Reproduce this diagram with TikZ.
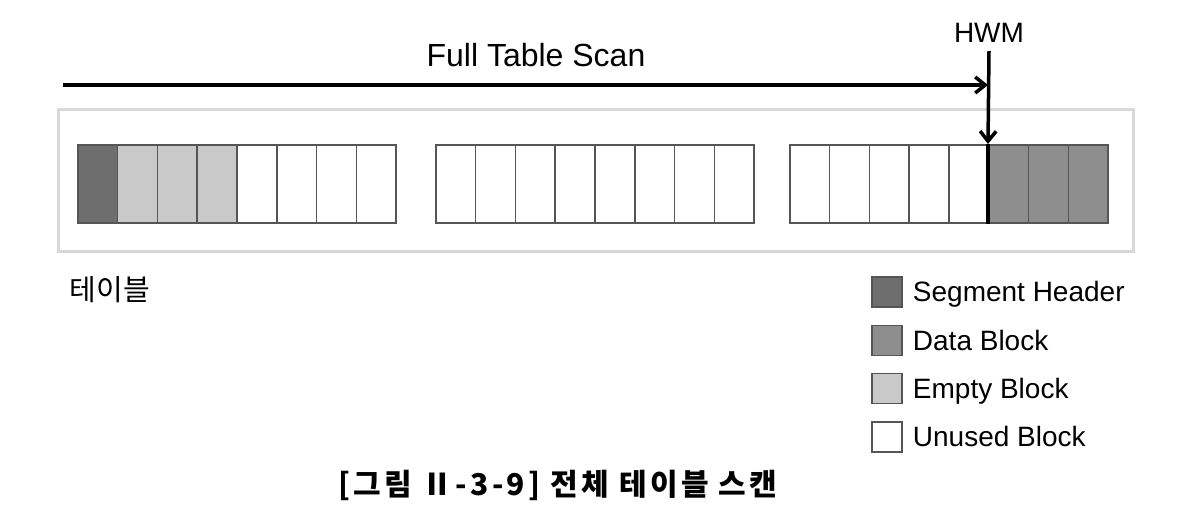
\documentclass[tikz,border=0pt]{standalone}
\usepackage{fontspec}
\setmainfont{Liberation Sans}
\newfontfamily\kofont{Noto Sans CJK KR}
\newfontfamily\capfont[LetterSpace=11]{Noto Sans CJK KR}
\usetikzlibrary{arrows.meta,positioning}

\definecolor{segGray}{HTML}{6E6E6E}
\definecolor{dataGray}{HTML}{8E8E8E}
\definecolor{emptyGray}{HTML}{C9C9C9}
\definecolor{frameGray}{HTML}{D8D8D8}
\definecolor{edgeGray}{HTML}{555555}

\tikzset{
  blk/.style={draw=edgeGray, line width=1.6pt, minimum width=39.8pt, minimum height=78pt,
    inner sep=0pt, anchor=north west},
  legbox/.style={draw=edgeGray, line width=1.5pt, minimum size=30pt, inner sep=0pt},
  legtxt/.style={inner sep=0pt, text height=20pt, text depth=0pt, font=\fontsize{28}{30}\selectfont},
  bigline/.style={line width=3.5pt, black},
}

\begin{document}
\begin{tikzpicture}[x=1pt,y=-1pt]
\useasboundingbox (0,0) rectangle (1200,526);

% Draw the table frame
\draw[frameGray, line width=3pt] (58,110) rectangle (1133,252);

% Draw the blocks, three groups of eight
\foreach \c [count=\n] in {segGray,emptyGray,emptyGray,emptyGray,white,white,white,white,
  white,white,white,white,white,white,white,white,
  white,white,white,white,white,dataGray,dataGray,dataGray}{
  \pgfmathtruncatemacro\g{(\n-1)/8}
  \pgfmathsetmacro\xx{{77,435,789}[\g]+mod(\n-1,8)*39.8}
  \node[blk, fill=\c] (b\n) at (\xx,144) {};
}

% Full table scan arrow up to the HWM
\node[font=\fontsize{32}{36}\selectfont] (scanlbl) at (536,55) {Full Table Scan};
\coordinate (scanStart) at (63,85);
\draw[bigline, -{Straight Barb[length=10pt,width=16pt]}] (scanStart) -- (scanStart -| b22.north west);

% HWM marker
\node[anchor=base, inner sep=8pt, font=\fontsize{28}{30}\selectfont] (hwm) at (989,43) {HWM};
\draw[bigline, -{Straight Barb[length=10pt,width=16pt]}] (hwm.south) -- (b22.north west);
\draw[bigline] (b22.north west) -- (b22.south west);

% Table label
\node[font=\kofont\fontsize{29}{32}\selectfont] (tbllbl) at (110,290) {테이블};

% Legend
\foreach \c/\t [count=\k] in {segGray/Segment Header,dataGray/Data Block,emptyGray/Empty Block,white/Unused Block}{
  \node[legbox, fill=\c] (lg\k) at (887,{292+(\k-1)*48.3}) {};
  \node[legtxt, right=10pt of lg\k] (lt\k) {\t};
}

% Caption
\node[font=\capfont\bfseries\fontsize{30}{34}\selectfont] (cap) at (558,485) {[그림 Ⅱ-3-9] 전체 테이블 스캔};
\end{tikzpicture}
\end{document}
